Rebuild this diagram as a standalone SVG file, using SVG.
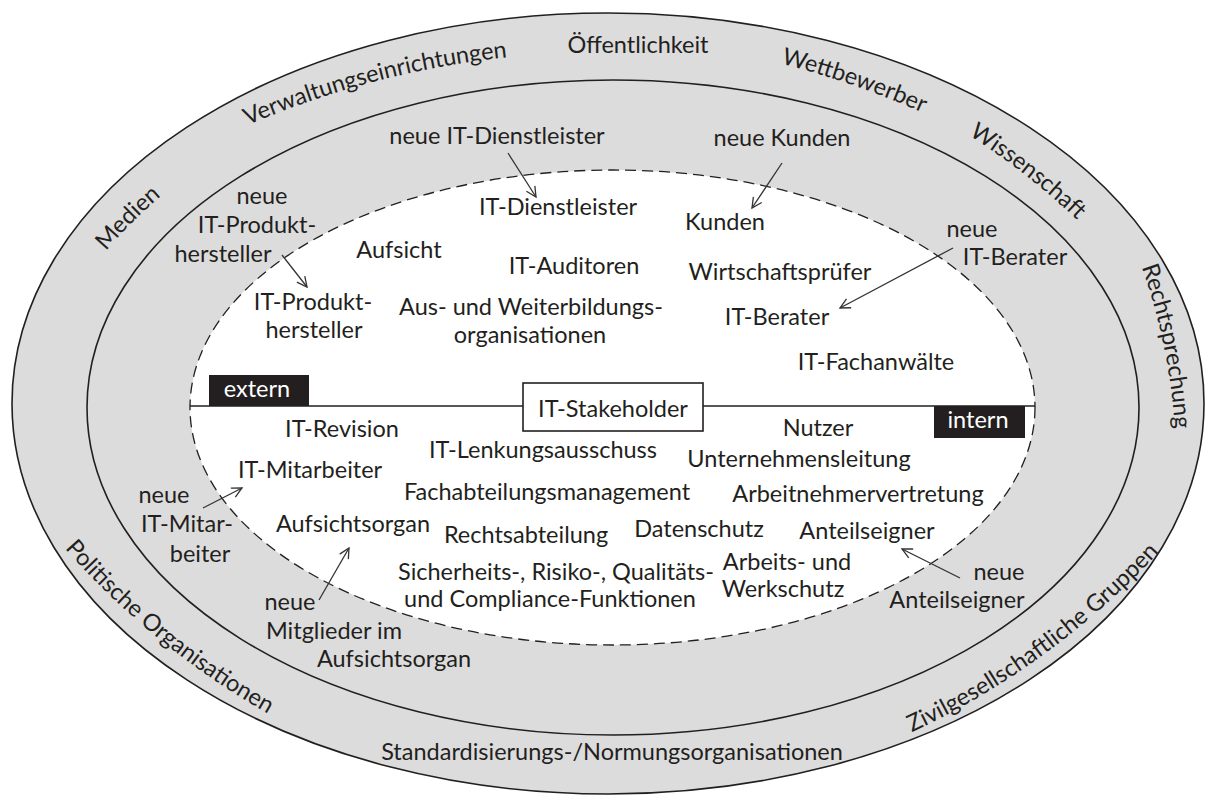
<svg xmlns="http://www.w3.org/2000/svg" width="1206" height="797" viewBox="0 0 1206 797">
<style>
.t{font-family:Lato,"Open Sans","Liberation Sans",sans-serif;font-size:23.5px;fill:#231f20;text-anchor:middle}
.w{fill:#ffffff}
.ring{fill:#dcdcdc;stroke:#231f20;stroke-width:1.6}
.dash{fill:#ffffff;stroke:#231f20;stroke-width:1.3;stroke-dasharray:11 6}
.ln{stroke:#231f20;stroke-width:1.6;fill:none}
.arr{stroke:#333;stroke-width:1.3;fill:none;marker-end:url(#ah)}
</style>
<defs>
<marker id="ah" markerUnits="userSpaceOnUse" markerWidth="14" markerHeight="14" refX="11" refY="6" orient="auto" viewBox="0 0 14 12">
<path d="M1,1 L11,6 L1,11" fill="none" stroke="#333" stroke-width="1.3"/>
</marker>
<path id="p-verw" d="M246,126 A900,900 0 0 1 509,57"/>
<path id="p-wett" d="M783,64 A900,900 0 0 1 921,112"/>
<path id="p-wiss" d="M970,136 A700,700 0 0 1 1076,219"/>
<path id="p-recht" d="M1141,265 A600,600 0 0 1 1175,431"/>
<path id="p-medien" d="M106,251 A500,500 0 0 1 161,196"/>
<path id="p-polit" d="M67,551 A800,800 0 0 0 265,712"/>
<path id="p-zivil" d="M908,734 A800,800 0 0 0 1162,549"/>
</defs>

<g id="background">
<ellipse class="ring" cx="608" cy="403.5" rx="596" ry="390.5"/>
<ellipse class="ring" cx="613" cy="407.5" rx="526" ry="327.5"/>
<ellipse class="dash" cx="612.5" cy="407.5" rx="422.5" ry="237.5"/>
<line class="ln" x1="190" y1="406" x2="1035" y2="406"/>
</g>

<g id="outer-labels">
<g id="n-oeffentlichkeit"><text class="t" x="638" y="53">Öffentlichkeit</text></g>
<g id="n-verwaltung"><text class="t"><textPath href="#p-verw" startOffset="50%">Verwaltungseinrichtungen</textPath></text></g>
<g id="n-wettbewerber"><text class="t"><textPath href="#p-wett" startOffset="50%">Wettbewerber</textPath></text></g>
<g id="n-wissenschaft"><text class="t"><textPath href="#p-wiss" startOffset="50%">Wissenschaft</textPath></text></g>
<g id="n-rechtsprechung"><text class="t"><textPath href="#p-recht" startOffset="50%">Rechtsprechung</textPath></text></g>
<g id="n-medien"><text class="t"><textPath href="#p-medien" startOffset="50%">Medien</textPath></text></g>
<g id="n-politische"><text class="t"><textPath href="#p-polit" startOffset="50%">Politische Organisationen</textPath></text></g>
<g id="n-zivil"><text class="t"><textPath href="#p-zivil" startOffset="50%">Zivilgesellschaftliche Gruppen</textPath></text></g>
<g id="n-standard"><text class="t" x="612" y="760">Standardisierungs-/Normungsorganisationen</text></g>
</g>

<g id="n-neue-itdl"><text class="t" x="497" y="144">neue IT-Dienstleister</text></g>
<g id="n-itdl"><text class="t" x="558" y="215">IT-Dienstleister</text></g>
<g id="n-neue-kunden"><text class="t" x="782" y="146">neue Kunden</text></g>
<g id="n-kunden"><text class="t" x="725" y="230">Kunden</text></g>
<g id="n-neue-itph"><text class="t"><tspan x="262" y="204">neue</tspan><tspan x="257" y="233">IT-Produkt-</tspan><tspan x="223" y="262">hersteller</tspan></text></g>
<g id="n-itph"><text class="t"><tspan x="313" y="310">IT-Produkt-</tspan><tspan x="314" y="338">hersteller</tspan></text></g>
<g id="n-aufsicht"><text class="t" x="399" y="258">Aufsicht</text></g>
<g id="n-itaud"><text class="t" x="574" y="274">IT-Auditoren</text></g>
<g id="n-ausweiter"><text class="t"><tspan x="531" y="315">Aus- und Weiterbildungs-</tspan><tspan x="530" y="343">organisationen</tspan></text></g>
<g id="n-wp"><text class="t" x="780" y="280">Wirtschaftsprüfer</text></g>
<g id="n-neue-itber"><text class="t"><tspan x="972" y="237">neue</tspan><tspan x="1015" y="265">IT-Berater</tspan></text></g>
<g id="n-itber"><text class="t" x="777" y="325">IT-Berater</text></g>
<g id="n-itfa"><text class="t" x="876" y="370">IT-Fachanwälte</text></g>

<g id="n-extern"><rect x="209" y="375" width="100" height="31" fill="#231f20"/><text class="t w" x="257" y="397">extern</text></g>
<g id="n-intern"><rect x="934" y="406" width="91" height="32" fill="#231f20"/><text class="t w" x="978" y="428">intern</text></g>
<g id="n-stakeholder"><rect x="523" y="383" width="180" height="48" fill="#ffffff" stroke="#231f20" stroke-width="1.6"/><text class="t" x="613" y="417">IT-Stakeholder</text></g>

<g id="n-itrev"><text class="t" x="342" y="437">IT-Revision</text></g>
<g id="n-itma"><text class="t" x="310" y="478">IT-Mitarbeiter</text></g>
<g id="n-neue-itma"><text class="t"><tspan x="164" y="503">neue</tspan><tspan x="187" y="532">IT-Mitar-</tspan><tspan x="200" y="562">beiter</tspan></text></g>
<g id="n-aufsichtsorgan"><text class="t" x="353" y="532">Aufsichtsorgan</text></g>
<g id="n-lenk"><text class="t" x="543" y="458">IT-Lenkungsausschuss</text></g>
<g id="n-fach"><text class="t" x="547" y="500">Fachabteilungsmanagement</text></g>
<g id="n-rechtsabt"><text class="t" x="526" y="543">Rechtsabteilung</text></g>
<g id="n-daten"><text class="t" x="699" y="537">Datenschutz</text></g>
<g id="n-sich"><text class="t"><tspan x="556" y="580">Sicherheits-, Risiko-, Qualitäts-</tspan><tspan x="550" y="607">und Compliance-Funktionen</tspan></text></g>
<g id="n-arbeits"><text class="t"><tspan x="787" y="570">Arbeits- und</tspan><tspan x="783" y="597">Werkschutz</tspan></text></g>
<g id="n-nutzer"><text class="t" x="818" y="436">Nutzer</text></g>
<g id="n-ul"><text class="t" x="799" y="467">Unternehmensleitung</text></g>
<g id="n-anv"><text class="t" x="858" y="502">Arbeitnehmervertretung</text></g>
<g id="n-anteil"><text class="t" x="867" y="539">Anteilseigner</text></g>
<g id="n-neue-anteil"><text class="t"><tspan x="999" y="580">neue</tspan><tspan x="957" y="608">Anteilseigner</tspan></text></g>
<g id="n-neue-mitgl"><text class="t"><tspan x="290" y="610">neue</tspan><tspan x="334" y="639">Mitglieder im</tspan><tspan x="394" y="667">Aufsichtsorgan</tspan></text></g>

<g id="connectors">
<line class="arr" x1="508" y1="153" x2="536" y2="197"/>
<line class="arr" x1="782" y1="163" x2="752" y2="208"/>
<line class="arr" x1="282" y1="255" x2="307" y2="287"/>
<line class="arr" x1="953" y1="248" x2="840" y2="308"/>
<line class="arr" x1="203" y1="508" x2="242" y2="488"/>
<line class="arr" x1="319" y1="600" x2="349" y2="548"/>
<line class="arr" x1="960" y1="578" x2="902" y2="549"/>
</g>
</svg>
